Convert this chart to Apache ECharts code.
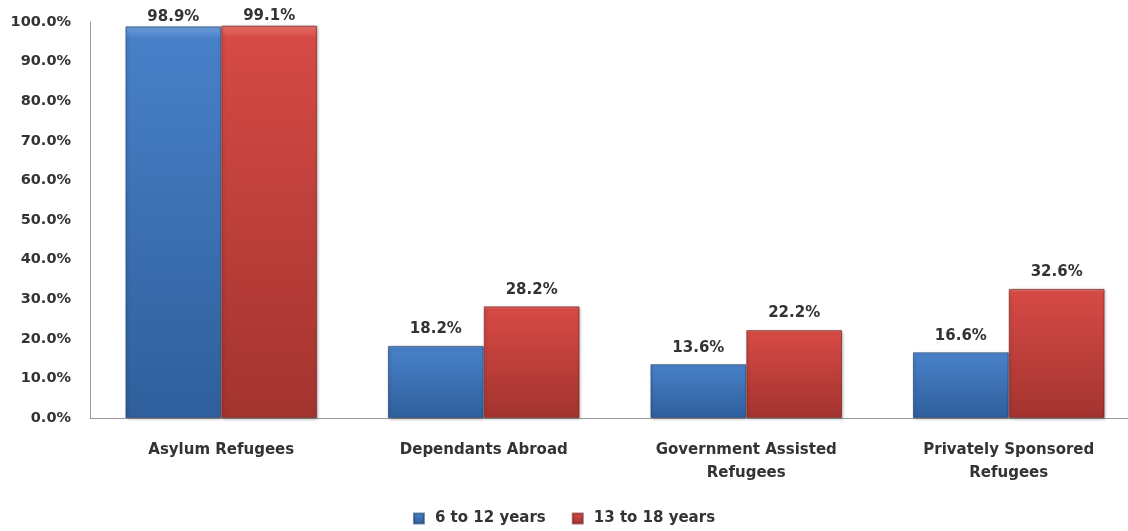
<!DOCTYPE html>
<html>
<head>
<meta charset="utf-8">
<script src="https://cdn.jsdelivr.net/npm/echarts@6/dist/echarts.min.js"></script>
<style>
html, body { margin: 0; padding: 0; background: #fff; }
#main { width: 1128px; height: 531px; }
</style>
</head>
<body>
<div id="main"></div>
<script>
var categories = ['Asylum Refugees', 'Dependants Abroad', 'Government Assisted\nRefugees', 'Privately Sponsored\nRefugees'];
var young = [98.9, 18.2, 13.6, 16.6];
var teens = [99.1, 28.2, 22.2, 32.6];
var seriesNames = ['6 to 12 years', '13 to 18 years'];

var FONT = '"DejaVu Sans", "Open Sans", sans-serif';

// lighter top fading to darker bottom, like the office bevel look
function barGrad(top, mid, bottom) {
	return new echarts.graphic.LinearGradient(0, 0, 0, 1, [
		{ offset: 0, color: top },
		{ offset: 0.03, color: mid },
		{ offset: 1, color: bottom }
	]);
}

var blue = barGrad('#6f9fdc', '#4880c8', '#2f5f9c');
var red = barGrad('#e8716c', '#d64a45', '#a3332f');

var myChart = echarts.init(document.getElementById('main'));

function valueLabel(dist) {
	return {
		show: true,
		position: 'top',
		distance: dist,
		fontFamily: FONT,
		fontWeight: 'bold',
		fontSize: 15,
		color: '#333',
		formatter: function(p) { return p.value.toFixed(1) + '%'; }
	};
}

// labels near the top of the plot get pushed down to stay inside
function withLabels(arr) {
	return arr.map(function(v) {
		return v > 95 ? { value: v, label: { distance: 2 } } : v;
	});
}

var option = {
	animation: false,
	textStyle: { fontFamily: FONT },
	grid: {
		left: 90,
		top: 22,
		bottom: 113,
		width: 1050,
		outerBoundsMode: 'none'
	},
	legend: {
		bottom: 0,
		left: 'center',
		itemWidth: 10,
		itemHeight: 10,
		itemGap: 26,
		icon: 'rect',
		textStyle: {
			fontFamily: FONT,
			fontWeight: 'bold',
			fontSize: 15,
			color: '#333',
			padding: [0, 0, 0, 6]
		},
		data: seriesNames
	},
	xAxis: {
		type: 'category',
		data: categories,
		axisLine: { lineStyle: { color: '#999' } },
		axisTick: { show: false },
		axisLabel: {
			margin: 21,
			fontFamily: FONT,
			fontWeight: 'bold',
			fontSize: 15,
			lineHeight: 23,
			color: '#333'
		}
	},
	yAxis: {
		type: 'value',
		min: 0,
		max: 100,
		interval: 10,
		axisLine: { show: true, lineStyle: { color: '#999' } },
		axisTick: { show: false },
		splitLine: { show: false },
		axisLabel: {
			margin: 19,
			fontFamily: FONT,
			fontWeight: 'bold',
			fontSize: 14.5,
			color: '#333',
			formatter: function(v) { return v.toFixed(1) + '%'; }
		}
	},
	series: [{
		name: seriesNames[0],
		type: 'bar',
		data: withLabels(young),
		barGap: '0%',
		barCategoryGap: '27%',
		itemStyle: {
			color: blue,
			borderColor: 'rgba(30,60,110,0.6)',
			borderWidth: 1,
			shadowColor: 'rgba(0,0,0,0.3)',
			shadowBlur: 3,
			shadowOffsetX: 1,
			shadowOffsetY: 1
		},
		label: valueLabel(9)
	}, {
		name: seriesNames[1],
		type: 'bar',
		data: withLabels(teens),
		itemStyle: {
			color: red,
			borderColor: 'rgba(110,30,28,0.6)',
			borderWidth: 1,
			shadowColor: 'rgba(0,0,0,0.3)',
			shadowBlur: 3,
			shadowOffsetX: 1,
			shadowOffsetY: 1
		},
		label: valueLabel(9)
	}]
};
myChart.setOption(option);
</script>
</body>
</html>
